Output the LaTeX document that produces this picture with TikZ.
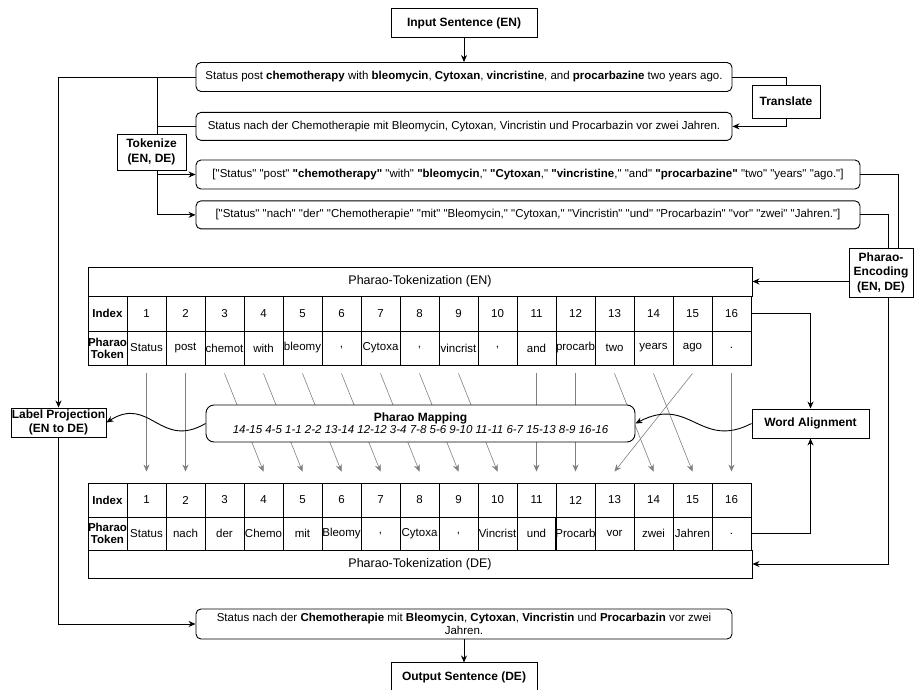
\documentclass[tikz,border=0pt]{standalone}
\usepackage{fontspec}
\setmainfont{Liberation Sans}[Ligatures=TeXOff]
\usepackage{tikz}
\usetikzlibrary{arrows.meta, positioning, calc}

\newcommand{\boxfont}{\fontsize{12}{14.5}\selectfont\bfseries}
\newcommand{\sentfont}{\fontsize{11.5}{13}\selectfont}
\newcommand{\cellfont}{\fontsize{11.5}{12}\selectfont}
\newcommand{\tblfont}{\fontsize{12.5}{14}\selectfont}

\begin{document}
\begin{tikzpicture}[
    x=1pt, y=-1pt,
    line width=0.9pt,
    box/.style={rectangle, draw, fill=white, align=center, font=\boxfont, inner sep=0pt},
    sentence/.style={rectangle, draw, rounded corners=5pt, fill=white, align=center, font=\sentfont, inner sep=0pt, minimum width=536pt},
    cell/.style={rectangle, draw, minimum width=39pt, font=\cellfont, inner sep=0pt, align=center},
    arrow/.style={-{Stealth[length=7pt, width=6pt]}},
    maparrow/.style={-{Stealth[length=7pt, width=6pt]}, draw=gray, line width=0.6pt}
]
\fill[white] (0,0) rectangle (914,690);
\useasboundingbox (0,0) rectangle (914,690);

% Sentences
\node[box, minimum width=146pt, minimum height=29pt] (inEN) at (464,23) {Input Sentence (EN)};
\node[sentence, minimum height=29pt] (senEN) at (464,77) {Status post \textbf{chemotherapy} with \textbf{bleomycin}, \textbf{Cytoxan}, \textbf{vincristine}, and \textbf{procarbazine} two years ago.};
\node[sentence, minimum height=28pt, below=20pt of senEN] (senDE) {Status nach der Chemotherapie mit Bleomycin, Cytoxan, Vincristin und Procarbazin vor zwei Jahren.};
\node[box, minimum width=68pt, minimum height=33pt] (translate) at (786,101.5) {Translate};
\node[box, minimum width=69pt, minimum height=36pt] (tokenize) at (151.5,152) {Tokenize\\(EN, DE)};

% Token lists
\node[sentence, minimum width=664pt, minimum height=29pt] (tokEN) at (528,174.5) {["Status" "post" \textbf{"chemotherapy"} "with" \textbf{"bleomycin},"\ \textbf{"Cytoxan},"\ \textbf{"vincristine},"\ "and" \textbf{"procarbazine"} "two" "years" "ago."]};
\node[sentence, minimum width=664pt, minimum height=28pt, below=11pt of tokEN] (tokDE) {["Status" "nach" "der" "Chemotherapie" "mit" "Bleomycin," "Cytoxan," "Vincristin" "und" "Procarbazin" "vor" "zwei" "Jahren."]};
\node[box, minimum width=64pt, minimum height=49pt] (encode) at (881,272.5) {Pharao-\\Encoding\\(EN, DE)};

% Table EN
\node[cell, minimum width=664pt, minimum height=29pt, font=\tblfont] (hdrEN) at (420,281.5) {Pharao-Tokenization (EN)};
\node[cell, minimum height=35pt, font=\cellfont\bfseries] (iEN0) at (107.5,313.5) {Index};
\node[cell, minimum height=34pt, font=\cellfont\bfseries] (tEN0) at (107.5,348) {Pharao\\Token};
\foreach \i in {1,...,16}
    \node[cell, minimum height=35pt] (iEN\i) at ({127+39*\i-19.5},313.5) {\i};
\foreach \i/\w in {1/Status, 2/post, 3/chemot, 4/with, 5/bleomy, 6/{,}, 7/Cytoxa, 8/{,}, 9/vincrist, 10/{,}, 11/and, 12/procarb, 13/two, 14/years, 15/ago, 16/.}
    \node[cell, minimum height=34pt] (tEN\i) at ({127+39*\i-19.5},348) {\w};

% Table DE
\node[cell, minimum height=34pt, font=\cellfont\bfseries] (iDE0) at (107.5,500) {Index};
\node[cell, minimum height=33pt, font=\cellfont\bfseries] (tDE0) at (107.5,533.5) {Pharao\\Token};
\foreach \i in {1,...,16}
    \node[cell, minimum height=34pt] (iDE\i) at ({127+39*\i-19.5},500) {\i};
\foreach \i/\w in {1/Status, 2/nach, 3/der, 4/Chemo, 5/mit, 6/Bleomy, 7/{,}, 8/Cytoxa, 9/{,}, 10/Vincrist, 11/und, 12/Procarb, 13/vor, 14/zwei, 15/Jahren, 16/.}
    \node[cell, minimum height=33pt] (tDE\i) at ({127+39*\i-19.5},533.5) {\w};
\node[cell, minimum width=664pt, minimum height=28pt, font=\tblfont] (ftrDE) at (420,564) {Pharao-Tokenization (DE)};

% Mapping arrows
\foreach \a/\b in {1/1, 2/2, 3/4, 4/5, 5/6, 6/7, 7/8, 8/9, 9/10, 11/11, 12/12, 13/14, 14/15, 15/13, 16/16}
    \draw[maparrow] ([yshift=-8pt]tEN\a.south) -- ([yshift=11pt]iDE\b.north);

\node[draw, fill=white, rounded corners=8pt, minimum width=429pt, minimum height=37pt, inner sep=0pt, align=center, font=\cellfont] (mapping) at (420.5,423.5) {\textbf{\fontsize{12}{14}\selectfont Pharao Mapping}\\\textit{14-15 4-5 1-1 2-2 13-14 12-12 3-4 7-8 5-6 9-10 11-11 6-7 15-13 8-9 16-16}};
\node[box, minimum width=95pt, minimum height=29pt] (labelproj) at (58.5,422.5) {Label Projection\\(EN to DE)};
\node[box, minimum width=117pt, minimum height=29pt] (wordalign) at (810.5,423.5) {Word Alignment};

% Output
\node[sentence, minimum height=30pt] (senOut) at (464,624) {Status nach der \textbf{Chemotherapie} mit \textbf{Bleomycin}, \textbf{Cytoxan}, \textbf{Vincristin} und \textbf{Procarbazin} vor zwei\\Jahren.};
\node[box, minimum width=146pt, minimum height=28pt, below=23pt of senOut] (outDE) {Output Sentence (DE)};

% Arrows
\draw[arrow] (inEN) -- (senEN);
\draw (senEN.east) -| (translate.north);
\draw[arrow] (translate.south) |- (senDE.east);
\draw (senEN.west) -| ([xshift=5.5pt]tokenize.north);
\draw (senDE.west) -| ([xshift=5.5pt]tokenize.north);
\draw[arrow] ([xshift=5.5pt]tokenize.south) |- (tokEN.west);
\draw[arrow] ([xshift=5.5pt]tokenize.south) |- (tokDE.west);
\draw[arrow] (senEN.west) -| (labelproj.north);
\draw[arrow] (labelproj.south) |- (senOut.west);
\draw (tokEN.east) -| ([xshift=17pt]encode.north);
\draw (tokDE.east) -| ([xshift=7pt]encode.north);
\draw[arrow] (encode.west |- hdrEN.east) -- (hdrEN.east);
\draw[arrow] ([xshift=7pt]encode.south) |- (ftrDE.east);
\draw[arrow] (iEN16.east) -| (wordalign.north);
\draw[arrow] (tDE16.east) -| (wordalign.south);
\draw[arrow] (wordalign.west) .. controls (700,450) and (690,395) .. (mapping.east);
\draw[arrow] (mapping.west) .. controls (160,450) and (150,395) .. (labelproj.east);
\draw[arrow] (senOut) -- (outDE);

\end{tikzpicture}
\end{document}
